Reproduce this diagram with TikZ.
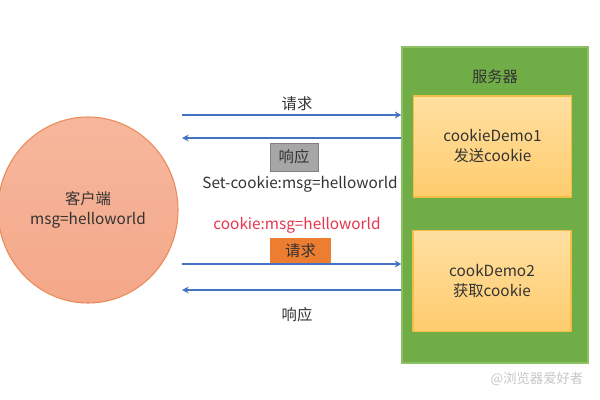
\documentclass[tikz,border=0pt]{standalone}
\usepackage{fontspec}
\setmainfont{Noto Sans CJK SC}
\usetikzlibrary{shapes.geometric,arrows.meta}
\definecolor{arrowblue}{HTML}{4472C4}
\definecolor{srvgreen}{HTML}{70AD47}
\definecolor{srvborder}{HTML}{8CC063}
\definecolor{boxtop}{HTML}{FFDFA0}
\definecolor{boxbot}{HTML}{FFCC6E}
\definecolor{boxborder}{HTML}{F2BE45}
\definecolor{clientfill}{HTML}{F4A889}
\definecolor{clienttop}{HTML}{F6B79C}
\definecolor{clientborder}{HTML}{EC8A5A}
\definecolor{tagorange}{HTML}{ED7D31}
\definecolor{taggray}{HTML}{A6A6A6}
\definecolor{taggrayb}{HTML}{808080}
\definecolor{cookiered}{HTML}{E63650}
\definecolor{txt}{HTML}{333333}
\tikzset{
  txtstyle/.style={font=\fontsize{11.5}{14}\selectfont, text=txt, align=center, inner sep=0pt},
  demobox/.style={rectangle, draw=boxborder, line width=0.8pt, top color=boxtop, bottom color=boxbot,
    minimum width=158*0.75pt, minimum height=101*0.75pt, txtstyle},
  msgarrow/.style={draw=arrowblue, line width=1.3pt, -{Stealth[length=5pt,width=5pt]}},
  tagbox/.style={rectangle, txtstyle, minimum height=26*0.75pt}
}
\begin{document}
\begin{tikzpicture}[x=0.75pt,y=-0.75pt]
\useasboundingbox (0,0) rectangle (600,400);
\fill[white] (0,0) rectangle (600,400);
% client
\node[ellipse, draw=clientborder, line width=0.8pt, top color=clienttop, bottom color=clientfill,
  minimum width=180*0.75pt, minimum height=186*0.75pt, txtstyle] (client) at (88,210)
  {客户端\\[1pt]msg=helloworld};
% server
\node[rectangle, draw=srvborder, line width=0.8pt, fill=srvgreen,
  minimum width=186*0.75pt, minimum height=316*0.75pt] (server) at (495,205) {};
\node[txtstyle] (srvlabel) at (495,77) {服务器};
\node[demobox] (demo1) at (492.5,146.5) {cookieDemo1\\[1pt]发送cookie};
\node[demobox] (demo2) at (492,281) {cookDemo2\\[1pt]获取cookie};
% arrow start coordinates
\coordinate (r1) at (182,115);
\coordinate (s1) at (182,138);
\coordinate (r2) at (182,264);
\coordinate (s2) at (182,290);
\draw[msgarrow] (r1) -- (r1 -| server.west);
\draw[msgarrow] (s1 -| server.west) -- (s1);
\draw[msgarrow] (r2) -- (r2 -| server.west);
\draw[msgarrow] (s2 -| server.west) -- (s2);
% labels
\node[txtstyle] (req1) at (297,104) {请求};
\node[tagbox, fill=taggray, draw=taggrayb, line width=0.6pt, minimum width=48*0.75pt, minimum height=28*0.75pt] (resp1) at (294,157) {响应};
\node[txtstyle] (setck) at (300,184) {Set-cookie:msg=helloworld};
\node[txtstyle, text=cookiered] (ck) at (297,225) {cookie:msg=helloworld};
\node[tagbox, fill=tagorange, minimum width=61*0.75pt, minimum height=25*0.75pt] (req2) at (300.5,250.5) {请求};
\node[txtstyle] (resp2) at (297,315) {响应};
% watermark
\node[font=\fontsize{10}{12}\selectfont, text=black!22, inner sep=0pt] (wm) at (537,379) {@浏览器爱好者};
\end{tikzpicture}
\end{document}
